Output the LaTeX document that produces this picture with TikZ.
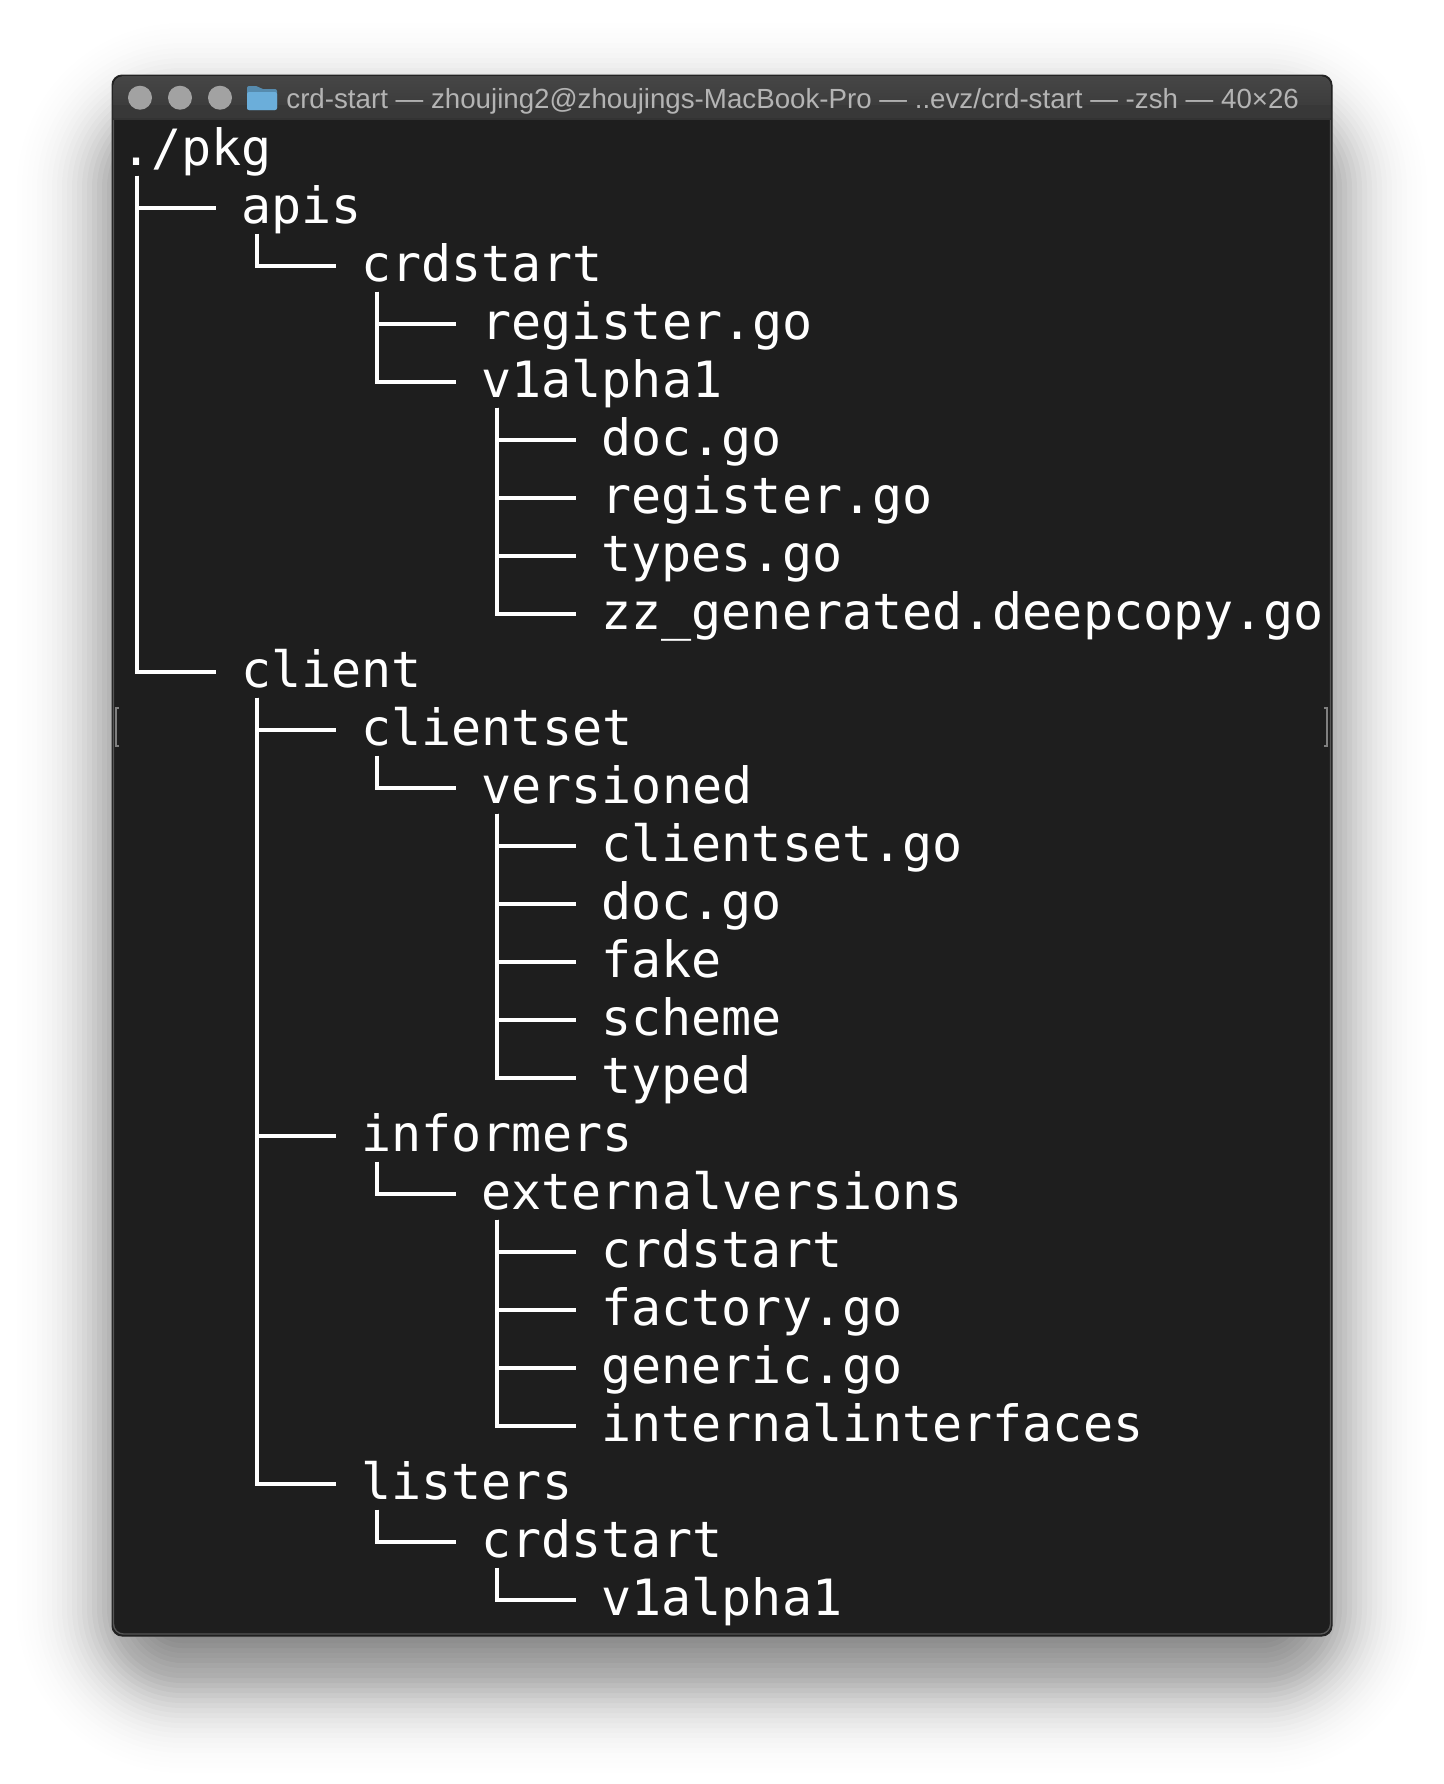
\documentclass[tikz,border=0pt]{standalone}
\usepackage{fontspec}
\setmonofont{DejaVu Sans Mono}
\setsansfont{Liberation Sans}
\usepackage{tikz}
\usetikzlibrary{calc}
\definecolor{termbg}{HTML}{1E1E1E}
\definecolor{barhi}{HTML}{464646}
\definecolor{barlo}{HTML}{383838}
\definecolor{edgelo}{HTML}{555555}
\definecolor{lamp}{HTML}{A2A2A2}
\definecolor{titlegray}{HTML}{B4B4B4}
\definecolor{folderblue}{HTML}{6BAEDA}
\tikzset{
  listing/.style={anchor=base west, inner sep=0pt, text=white, font=\ttfamily\fontsize{25}{25}\selectfont},
  treeline/.style={draw=white, line width=2pt},
  lamplight/.style={fill=lamp, draw=none},
  bracket/.style={draw=gray, line width=0.7pt}
}
\begin{document}
\begin{tikzpicture}[x=0.5pt,y=-0.5pt]
\useasboundingbox (0,0) rectangle (1444,1784);
\fill[white] (0,0) rectangle (1444,1784);
% shadow
\foreach \d in {-100,-95,...,110} {
  \pgfmathsetmacro{\op}{0.62*5/(42*2.5066)*exp(-(\d*\d)/(2*42*42))}
  \pgfmathsetmacro{\rad}{0.5*max(10,70+\d)}
  \fill[black, opacity=\op, rounded corners=\rad pt] (112-\d,118-\d) rectangle (1332+\d,1678+\d);
}
% window
\fill[termbg, rounded corners=5pt] (112,75) rectangle (1332,1636);
\draw[black!85, line width=0.5pt, rounded corners=5pt] (112,75) rectangle (1332,1636);
\draw[edgelo, line width=0.7pt, rounded corners=5pt] (113.5,100) -- (113.5,1634) -- (1330.5,1634) -- (1330.5,100);
\fill[top color=barhi, bottom color=barlo, rounded corners=5pt] (113,76) -- (113,118) -- (1331,118) -- (1331,76) -- cycle;
\fill[barlo] (113,105) rectangle (1331,118);
\draw[black!80, line width=0.7pt] (113,119) -- (1331,119);
% title bar
\node[circle, lamplight, minimum size=12pt, inner sep=0pt] (lampa) at (140,97.7) {};
\node[circle, lamplight, minimum size=12pt, inner sep=0pt] (lampb) at (180,97.7) {};
\node[circle, lamplight, minimum size=12pt, inner sep=0pt] (lampc) at (220,97.7) {};
\fill[folderblue!80!black, rounded corners=1pt] (247,110) -- (247,86) -- (258,86) -- (261,89) -- (277,89) -- (277,110) -- cycle;
\fill[folderblue, rounded corners=1pt] (247,110) -- (247,92) -- (277,92) -- (277,110) -- cycle;
\node[anchor=base west, inner sep=0pt, text=titlegray, font=\sffamily\fontsize{13.85}{13.85}\selectfont] (title) at (286,108) {crd-start — zhoujing2@zhoujings-MacBook-Pro — ..evz/crd-start — -zsh — 40×26};
% resize handles
\draw[bracket] (119,708) -- (116,708) -- (116,746) -- (119,746);
\draw[bracket] (1324,708) -- (1327,708) -- (1327,746) -- (1324,746);
% listing
\begin{scope}[shift={(121,165)},x=15pt,y=-29pt]
\node[listing] (pkg) at (0,0) {./pkg};
\node[listing] (apis) at (4,1) {apis};
\node[listing] (crdstart) at (8,2) {crdstart};
\node[listing] (registerone) at (12,3) {register.go};
\node[listing] (alphaone) at (12,4) {v1alpha1};
\node[listing] (docone) at (16,5) {doc.go};
\node[listing] (registertwo) at (16,6) {register.go};
\node[listing] (types) at (16,7) {types.go};
\node[listing] (deepcopy) at (16,8) {zz\_generated.deepcopy.go};
\node[listing] (client) at (4,9) {client};
\node[listing] (clientset) at (8,10) {clientset};
\node[listing] (versioned) at (12,11) {versioned};
\node[listing] (clientsetgo) at (16,12) {clientset.go};
\node[listing] (doctwo) at (16,13) {doc.go};
\node[listing] (fake) at (16,14) {fake};
\node[listing] (scheme) at (16,15) {scheme};
\node[listing] (typed) at (16,16) {typed};
\node[listing] (informers) at (8,17) {informers};
\node[listing] (external) at (12,18) {externalversions};
\node[listing] (crdstarttwo) at (16,19) {crdstart};
\node[listing] (factory) at (16,20) {factory.go};
\node[listing] (generic) at (16,21) {generic.go};
\node[listing] (internal) at (16,22) {internalinterfaces};
\node[listing] (listers) at (8,23) {listers};
\node[listing] (crdstartthree) at (12,24) {crdstart};
\node[listing] (alphatwo) at (16,25) {v1alpha1};
\end{scope}
% tree
\foreach \from/\to in {pkg/apis,pkg/client,apis/crdstart,crdstart/registerone,crdstart/alphaone,
  alphaone/docone,alphaone/registertwo,alphaone/types,alphaone/deepcopy,
  client/clientset,client/informers,client/listers,clientset/versioned,
  versioned/clientsetgo,versioned/doctwo,versioned/fake,versioned/scheme,versioned/typed,
  informers/external,external/crdstarttwo,external/factory,external/generic,external/internal,
  listers/crdstartthree,crdstartthree/alphatwo}
  \draw[treeline] ([shift={(15.7,10.6)}]\from.base west) |- ([shift={(-25.3,-14.8)}]\to.base west);
\end{tikzpicture}
\end{document}
